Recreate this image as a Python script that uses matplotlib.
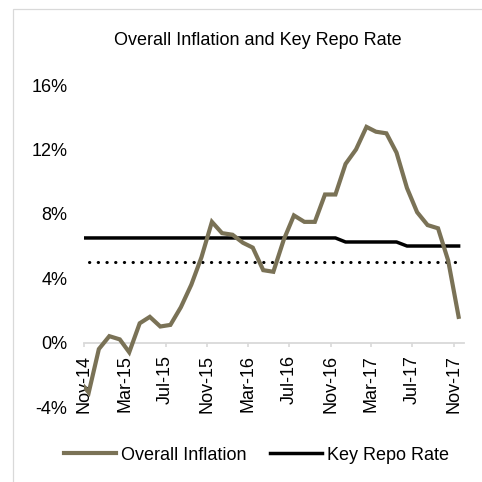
import matplotlib
matplotlib.use("Agg")
import matplotlib.pyplot as plt
import matplotlib.dates as mdates
from matplotlib.patches import Rectangle
from matplotlib.ticker import FuncFormatter, MultipleLocator
import pandas as pd

plt.rcParams['font.family'] = ['Liberation Sans', 'DejaVu Sans']
plt.rcParams['font.size'] = 13

# monthly observations, Oct-14 .. Nov-17 (plotted mid-month)
months = pd.date_range('2014-10-01', '2017-11-01', freq='MS') + pd.Timedelta(days=14)

inflation = [-2.3, -3.1, -0.4, 0.4, 0.2, -0.6, 1.2, 1.6, 1.0, 1.1, 2.2, 3.6,
             5.3, 7.5, 6.8, 6.7, 6.2, 5.9, 4.5, 4.4, 6.4, 7.9, 7.5, 7.5,
             9.2, 9.2, 11.1, 12.0, 13.4, 13.1, 13.0, 11.8, 9.6, 8.1, 7.3, 7.1,
             5.1, 1.6]

repo_rate = [6.5, 6.5, 6.5, 6.5, 6.5, 6.5, 6.5, 6.5, 6.5, 6.5, 6.5, 6.5,
             6.5, 6.5, 6.5, 6.5, 6.5, 6.5, 6.5, 6.5, 6.5, 6.5, 6.5, 6.5,
             6.5, 6.5, 6.25, 6.25, 6.25, 6.25, 6.25, 6.25, 6.0, 6.0, 6.0, 6.0,
             6.0, 6.0]

# inflation target starts in Nov-14
target_months = months[1:]
target = [5.0, 5.0, 5.0, 5.0, 5.0, 5.0, 5.0, 5.0, 5.0, 5.0, 5.0, 5.0,
          5.0, 5.0, 5.0, 5.0, 5.0, 5.0, 5.0, 5.0, 5.0, 5.0, 5.0, 5.0,
          5.0, 5.0, 5.0, 5.0, 5.0, 5.0, 5.0, 5.0, 5.0, 5.0, 5.0, 5.0,
          5.0]

fig = plt.figure(figsize=(4.82, 4.82), dpi=100)
ax = fig.add_axes([0.1743, 0.1556, 0.7884, 0.668])

ax.plot(months, inflation, color='#7a7256', lw=3.0, solid_joinstyle='miter',
        label='Overall Inflation', zorder=3)
ax.plot(months, repo_rate, color='black', lw=2.5, label='Key Repo Rate', zorder=2)
ax.plot(target_months, target, color='black', lw=2.2,
        linestyle=(0, (0.1, 2.75)), dash_capstyle='round', zorder=2)

ax.set_xlim(pd.Timestamp('2014-11-01'), pd.Timestamp('2017-12-01'))
ax.set_ylim(-4, 16)
ax.yaxis.set_major_locator(MultipleLocator(4))
ax.yaxis.set_major_formatter(FuncFormatter(lambda v, p: f'{v:.0f}%'))

ax.xaxis.set_major_locator(mdates.MonthLocator(bymonth=[3, 7, 11]))
ax.xaxis.set_major_formatter(mdates.DateFormatter('%b-%y'))

for side in ['top', 'right', 'left']:
    ax.spines[side].set_visible(False)
ax.spines['bottom'].set_position(('data', 0))
ax.spines['bottom'].set_color('#d9d9d9')
ax.spines['bottom'].set_linewidth(1.3)

ax.tick_params(axis='y', length=0, pad=12)
ax.tick_params(axis='x', direction='out', length=3, width=1.2, color='#d9d9d9',
               pad=6, labelrotation=90)

fig.text(0.535, 0.915, 'Overall Inflation and Key Repo Rate', ha='center', va='center')

fig.legend(loc='center', bbox_to_anchor=(0.532, 0.056), ncol=2, frameon=False,
           handlelength=2.9, handletextpad=0.28, columnspacing=1.3)

# chart area border
fig.patches.append(Rectangle((13 / 482, -0.1), 1.2, 1 - 9 / 482 + 0.1,
                             transform=fig.transFigure, fill=False,
                             edgecolor='#d9d9d9', lw=0.9))

fig.savefig('out.png', dpi=100)
